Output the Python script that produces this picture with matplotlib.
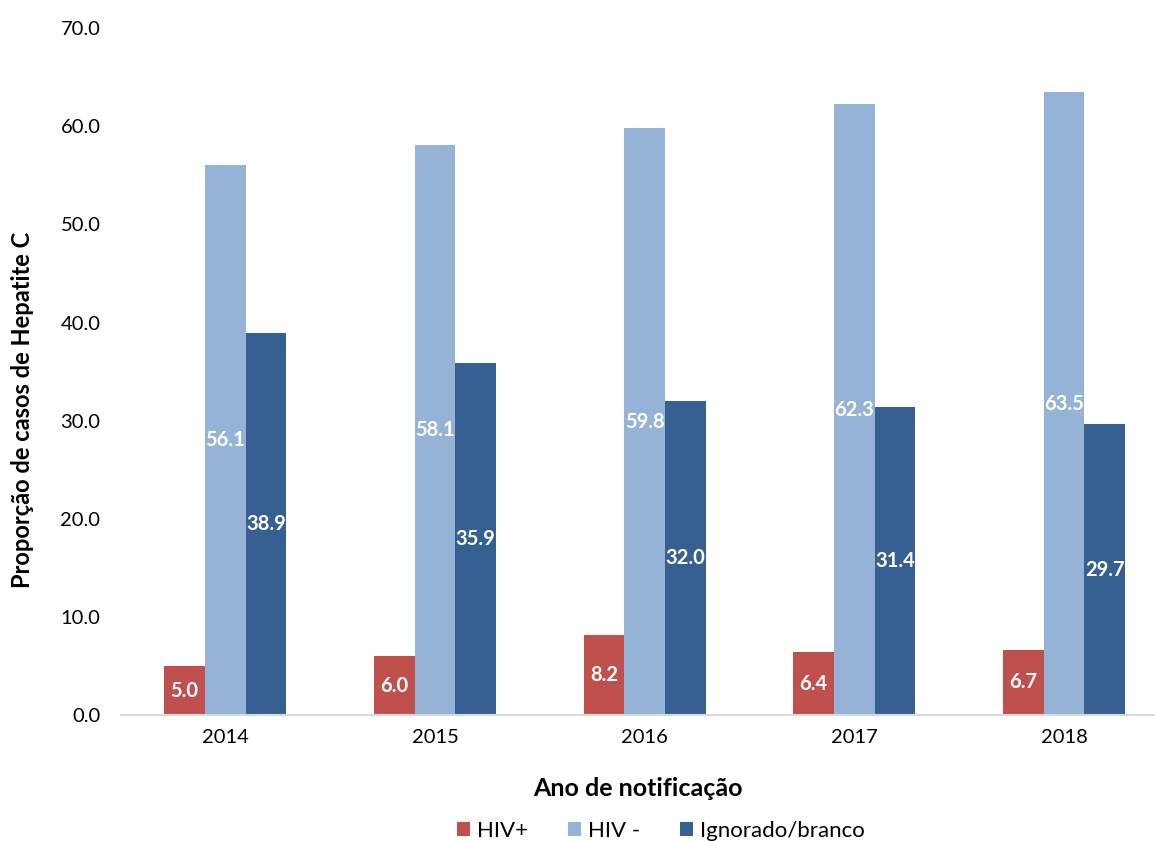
import numpy as np
import matplotlib.pyplot as plt

# Proporção de casos de hepatite C por status HIV e ano
anos = ['2014', '2015', '2016', '2017', '2018']
hiv_pos = [5.0, 6.0, 8.2, 6.4, 6.7]
hiv_neg = [56.1, 58.1, 59.8, 62.3, 63.5]
ignorado = [38.9, 35.9, 32.0, 31.4, 29.7]

series = [('HIV+', hiv_pos, '#C0504D'),
          ('HIV -', hiv_neg, '#95B3D7'),
          ('Ignorado/branco', ignorado, '#376092')]

plt.rcParams['font.family'] = ['Lato', 'DejaVu Sans']

fig = plt.figure(figsize=(11.55, 8.41), dpi=100)
ax = fig.add_axes([0.105, 0.1495, 0.895, 0.817])

x = np.arange(len(anos))
w = 0.194
for i, (nome, vals, cor) in enumerate(series):
    bars = ax.bar(x + (i - 1) * w, vals, width=w, color=cor, label=nome)
    ax.bar_label(bars, labels=['%.1f' % v for v in vals], label_type='center',
                 color='white', fontweight='bold', fontsize=14.5)

ax.set_xlim(-0.496, 4.434)
ax.set_ylim(0, 70)
ax.set_yticks(np.arange(0, 71, 10))
ax.set_yticklabels(['%.1f' % v for v in np.arange(0, 71, 10)], fontsize=14.5)
ax.set_xticks(x)
ax.set_xticklabels(anos, fontsize=14.5)
ax.tick_params(length=0, pad=10)
ax.tick_params(axis='y', pad=15)

for s in ['top', 'right', 'left']:
    ax.spines[s].set_visible(False)
ax.spines['bottom'].set_color('#D9D9D9')
ax.spines['bottom'].set_linewidth(1.5)

ax.set_xlabel('Ano de notificação', fontsize=18, fontweight='bold', labelpad=22)
ax.set_ylabel('Proporção de casos de Hepatite C', fontsize=17, fontweight='bold')
ax.yaxis.set_label_coords(-0.084, 0.444)

fig.legend(loc='center', bbox_to_anchor=(0.572, 0.012), ncol=3, frameon=False,
           fontsize=16, handlelength=0.6, handleheight=0.6, columnspacing=1.8,
           handletextpad=0.3)

fig.savefig('out.png', dpi=100)
